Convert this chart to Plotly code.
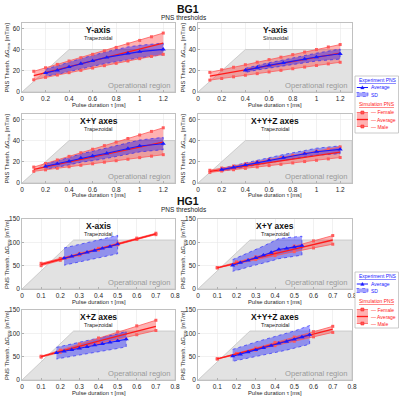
import plotly.graph_objects as go

# ------------------------------------------------------------------ data
# BG1 (x range 0-1.3 ms, y range 0-65 mT/m)
TAU_SIM_BG1 = [0.1, 0.2, 0.3, 0.4, 0.5, 0.6, 0.7, 0.8, 0.9, 1.0, 1.1, 1.2]
TAU_EXP_BG1 = [0.2, 0.3, 0.4, 0.5, 0.6, 0.72, 0.9, 1.0, 1.2]
TAU_EXP_BG1_SIN = [0.4, 0.5, 0.6, 0.72, 0.9, 1.0, 1.2]

BG1_Y_TRAP_FEMALE = [19.5, 22.8, 26.0, 29.2, 32.3, 35.5, 38.8, 42.0, 45.3, 48.6, 52.0, 55.5]
BG1_Y_TRAP_AVG = [15.5, 18.3, 21.0, 23.8, 26.6, 29.3, 32.0, 34.8, 37.6, 40.4, 43.2, 46.0]
BG1_Y_TRAP_MALE = [11.5, 13.8, 16.0, 18.2, 20.4, 22.6, 24.8, 27.0, 29.2, 31.4, 33.5, 35.5]
BG1_Y_TRAP_EXP_AVG = [18.0, 20.4, 23.6, 26.8, 29.4, 32.6, 36.4, 38.0, 40.2]
BG1_Y_TRAP_EXP_HI = [21.5, 24.5, 28.0, 31.5, 34.5, 38.0, 42.5, 44.0, 46.0]
BG1_Y_TRAP_EXP_LO = [15.0, 16.5, 19.2, 22.0, 24.2, 27.0, 30.5, 32.2, 35.0]

BG1_Y_SIN_FEMALE = [18.5, 20.9, 23.3, 25.7, 28.1, 30.5, 32.8, 35.2, 37.6, 40.0, 42.4, 44.7]
BG1_Y_SIN_AVG = [15.0, 17.0, 19.0, 20.9, 22.9, 24.9, 26.8, 28.8, 30.8, 32.8, 34.7, 36.7]
BG1_Y_SIN_MALE = [11.2, 12.7, 14.3, 15.8, 17.3, 18.9, 20.4, 21.9, 23.5, 25.0, 26.5, 28.0]
BG1_Y_SIN_EXP_AVG = [20.4, 23.0, 25.2, 27.4, 31.0, 32.9, 36.0]
BG1_Y_SIN_EXP_HI = [22.3, 25.2, 27.6, 30.2, 34.5, 36.6, 40.5]
BG1_Y_SIN_EXP_LO = [18.4, 20.8, 22.8, 24.6, 27.5, 29.2, 31.0]

BG1_XY_FEMALE = [15.0, 18.4, 21.7, 25.1, 28.5, 31.8, 35.2, 38.5, 41.9, 45.2, 48.6, 52.0]
BG1_XY_AVG = [12.9, 15.2, 17.6, 19.9, 22.3, 24.6, 26.9, 29.3, 31.6, 33.9, 36.3, 38.6]
BG1_XY_MALE = [11.0, 12.4, 13.9, 15.3, 16.7, 18.1, 19.6, 21.0, 22.4, 23.9, 25.3, 26.7]
BG1_XY_EXP_AVG = [15.7, 18.2, 20.4, 23.6, 25.4, 28.0, 32.4, 34.9, 37.0]
BG1_XY_EXP_HI = [18.2, 21.0, 24.0, 27.5, 29.8, 33.0, 37.8, 40.5, 43.0]
BG1_XY_EXP_LO = [12.9, 15.0, 17.0, 19.6, 21.0, 23.2, 27.0, 29.3, 31.4]

BG1_XYZ_FEMALE = [12.0, 14.1, 16.0, 18.1, 20.0, 22.1, 24.0, 26.1, 28.0, 30.1, 32.0, 34.0]
BG1_XYZ_AVG = [11.0, 12.6, 14.3, 15.9, 17.5, 19.2, 20.8, 22.5, 24.1, 25.7, 27.4, 29.0]
BG1_XYZ_MALE = [10.0, 11.3, 12.5, 13.8, 15.1, 16.4, 17.6, 18.9, 20.2, 21.4, 22.7, 24.0]
BG1_XYZ_EXP_AVG = [12.6, 14.8, 17.0, 19.4, 21.5, 24.0, 27.6, 29.5, 31.7]
BG1_XYZ_EXP_HI = [14.0, 16.5, 19.0, 21.6, 24.0, 26.8, 30.6, 32.8, 35.0]
BG1_XYZ_EXP_LO = [11.0, 13.0, 15.0, 17.2, 19.0, 21.3, 24.6, 26.2, 27.6]

# HG1 (x range 0-0.8 ms, y range 0-150 mT/m)
TAU_SIM_HG1 = [0.1, 0.2, 0.3, 0.4, 0.5, 0.6, 0.7]

HG1_X_FEMALE = [55.0, 65.5, 76.3, 87.2, 98.2, 109.0, 119.5]
HG1_X_AVG = [52.5, 63.5, 74.5, 85.5, 96.5, 107.5, 118.0]
HG1_X_MALE = [50.0, 61.5, 72.7, 83.8, 94.8, 106.0, 116.5]
HG1_X_EXP_TAU = [0.22, 0.26, 0.30, 0.34, 0.38, 0.42, 0.46, 0.50]
HG1_X_EXP_AVG = [66.0, 70.0, 74.5, 78.5, 82.5, 87.0, 91.0, 96.0]
HG1_X_EXP_HI = [88.0, 91.5, 95.0, 99.0, 103.0, 107.0, 111.0, 115.0]
HG1_X_EXP_LO = [51.0, 54.5, 58.0, 61.5, 65.0, 68.5, 72.0, 75.5]

HG1_XY_FEMALE = [46.0, 58.0, 69.0, 80.0, 92.0, 103.0, 114.5]
HG1_XY_AVG = [45.5, 56.0, 66.0, 76.0, 85.5, 95.5, 105.0]
HG1_XY_MALE = [45.0, 54.0, 63.0, 71.5, 80.0, 88.0, 96.0]
HG1_XY_EXP_TAU = [0.18, 0.22, 0.26, 0.30, 0.34, 0.38, 0.42, 0.46, 0.50, 0.54]
HG1_XY_EXP_AVG = [50.7, 56.5, 61.6, 66.7, 72.5, 78.0, 84.8, 87.0, 90.0, 93.0]
HG1_XY_EXP_HI = [63.0, 70.0, 77.0, 84.0, 92.0, 100.0, 108.0, 110.0, 111.0, 113.0]
HG1_XY_EXP_LO = [38.0, 42.0, 47.0, 52.0, 56.0, 60.0, 65.0, 68.0, 70.0, 72.5]

HG1_XZ_FEMALE = [51.0, 64.0, 77.0, 90.0, 103.0, 116.0, 128.0]
HG1_XZ_AVG = [50.0, 61.5, 72.5, 83.5, 94.0, 105.0, 115.0]
HG1_XZ_MALE = [49.0, 59.5, 69.0, 78.0, 87.5, 97.0, 106.0]
HG1_XZ_EXP_TAU = [0.18, 0.22, 0.26, 0.30, 0.34, 0.38, 0.42, 0.46, 0.50, 0.545]
HG1_XZ_EXP_AVG = [58.4, 61.5, 64.8, 68.0, 71.0, 74.5, 77.5, 80.8, 84.0, 87.5]
HG1_XZ_EXP_HI = [70.0, 73.5, 77.0, 80.5, 84.0, 88.0, 91.5, 95.0, 99.0, 104.0]
HG1_XZ_EXP_LO = [45.0, 47.5, 50.0, 53.0, 55.5, 58.5, 61.5, 64.5, 67.5, 71.0]

HG1_XYZ_FEMALE = [45.5, 57.0, 68.5, 80.5, 92.0, 103.5, 115.0]
HG1_XYZ_AVG = [45.3, 56.0, 66.5, 77.0, 87.5, 98.0, 109.0]
HG1_XYZ_MALE = [45.0, 54.5, 64.0, 73.5, 83.0, 92.5, 102.0]
HG1_XYZ_EXP_TAU = [0.18, 0.22, 0.26, 0.30, 0.34, 0.38, 0.42, 0.46, 0.50, 0.54, 0.58]
HG1_XYZ_EXP_AVG = [51.0, 55.0, 60.0, 64.5, 69.0, 73.5, 78.5, 82.5, 87.0, 92.0, 97.0]
HG1_XYZ_EXP_HI = [65.6, 70.0, 76.0, 81.5, 86.0, 90.5, 95.0, 100.0, 105.0, 111.0, 116.7]
HG1_XYZ_EXP_LO = [40.0, 43.0, 46.5, 50.0, 53.5, 57.0, 60.5, 64.0, 68.0, 72.0, 76.6]

# operational region outlines (tau, gradient)
OP_BG1_TAU = [0, 0.4, 1.3, 1.3, 0]
OP_BG1_G = [0, 40, 40, 0, 0]
OP_HG1_TAU = [0, 0.27, 0.8, 0.8, 0]
OP_HG1_G = [0, 105, 105, 0, 0]

PANEL_TITLES = ["Y-axis", "Y-axis", "X+Y axes", "X+Y+Z axes",
                "X-axis", "X+Y axes", "X+Z axes", "X+Y+Z axes"]
PANEL_SUBTITLES = ["Trapezoidal", "Sinusoidal", "Trapezoidal", "Trapezoidal",
                   "Trapezoidal", "Trapezoidal", "Trapezoidal", "Trapezoidal"]

# ------------------------------------------------------------------ layout helpers
W, H = 400, 398
FONT = "Liberation Sans, Arial, sans-serif"


def fx(p):
    return p / W


def fy(p):
    return 1 - p / H


COL_PX = {1: (22, 175), 2: (198, 352)}
ROW_PX = {1: (23, 92), 2: (114, 183), 3: (219, 289), 4: (310, 380)}

RED = "#ff1a1a"
RED_LIGHT = "#ff5a5a"
RED_FILL = "rgba(255,0,0,0.30)"
BLUE = "#1a1aff"
BLUE_FILL = "rgba(0,0,255,0.36)"

panels = [
    (TAU_SIM_BG1, BG1_Y_TRAP_FEMALE, BG1_Y_TRAP_AVG, BG1_Y_TRAP_MALE,
     TAU_EXP_BG1, BG1_Y_TRAP_EXP_AVG, BG1_Y_TRAP_EXP_HI, BG1_Y_TRAP_EXP_LO, "BG1"),
    (TAU_SIM_BG1, BG1_Y_SIN_FEMALE, BG1_Y_SIN_AVG, BG1_Y_SIN_MALE,
     TAU_EXP_BG1_SIN, BG1_Y_SIN_EXP_AVG, BG1_Y_SIN_EXP_HI, BG1_Y_SIN_EXP_LO, "BG1"),
    (TAU_SIM_BG1, BG1_XY_FEMALE, BG1_XY_AVG, BG1_XY_MALE,
     TAU_EXP_BG1, BG1_XY_EXP_AVG, BG1_XY_EXP_HI, BG1_XY_EXP_LO, "BG1"),
    (TAU_SIM_BG1, BG1_XYZ_FEMALE, BG1_XYZ_AVG, BG1_XYZ_MALE,
     TAU_EXP_BG1, BG1_XYZ_EXP_AVG, BG1_XYZ_EXP_HI, BG1_XYZ_EXP_LO, "BG1"),
    (TAU_SIM_HG1, HG1_X_FEMALE, HG1_X_AVG, HG1_X_MALE,
     HG1_X_EXP_TAU, HG1_X_EXP_AVG, HG1_X_EXP_HI, HG1_X_EXP_LO, "HG1"),
    (TAU_SIM_HG1, HG1_XY_FEMALE, HG1_XY_AVG, HG1_XY_MALE,
     HG1_XY_EXP_TAU, HG1_XY_EXP_AVG, HG1_XY_EXP_HI, HG1_XY_EXP_LO, "HG1"),
    (TAU_SIM_HG1, HG1_XZ_FEMALE, HG1_XZ_AVG, HG1_XZ_MALE,
     HG1_XZ_EXP_TAU, HG1_XZ_EXP_AVG, HG1_XZ_EXP_HI, HG1_XZ_EXP_LO, "HG1"),
    (TAU_SIM_HG1, HG1_XYZ_FEMALE, HG1_XYZ_AVG, HG1_XYZ_MALE,
     HG1_XYZ_EXP_TAU, HG1_XYZ_EXP_AVG, HG1_XYZ_EXP_HI, HG1_XYZ_EXP_LO, "HG1"),
]

fig = go.Figure()
layout = dict(
    width=W, height=H, margin=dict(l=0, r=0, t=0, b=0),
    paper_bgcolor="white", plot_bgcolor="white", showlegend=False,
    font=dict(family=FONT, size=6.5, color="#262626"),
)
annotations = []
shapes = []

for i, (ts, fem, avg, male, te, eavg, ehi, elo, grp) in enumerate(panels):
    k = i + 1
    row, col = i // 2 + 1, i % 2 + 1
    xa = "x" if k == 1 else f"x{k}"
    ya = "y" if k == 1 else f"y{k}"
    xl, xr = COL_PX[col]
    yt, yb = ROW_PX[row]
    bg = grp == "BG1"
    xrange = [0, 1.3] if bg else [0, 0.8]
    yrange = [0, 65] if bg else [0, 150]
    axcommon = dict(showgrid=True, gridcolor="#e8e8e8", gridwidth=0.6, zeroline=False,
                    showline=True, linecolor="#b0b0b0", linewidth=0.8, mirror=True,
                    ticks="inside", ticklen=2, tickcolor="#b0b0b0",
                    tickfont=dict(size=6.5, color="#262626"), automargin=False, fixedrange=True)
    layout["xaxis" if k == 1 else f"xaxis{k}"] = dict(
        axcommon, domain=[fx(xl), fx(xr)], range=xrange, anchor=ya,
        tick0=0, dtick=0.2 if bg else 0.1)
    layout["yaxis" if k == 1 else f"yaxis{k}"] = dict(
        axcommon, domain=[fy(yb), fy(yt)], range=yrange, anchor=xa,
        tick0=0, dtick=20 if bg else 50)

    opx, opy = (OP_BG1_TAU, OP_BG1_G) if bg else (OP_HG1_TAU, OP_HG1_G)
    fig.add_trace(go.Scatter(x=opx, y=opy, fill="toself", fillcolor="#e2e2e2",
                             line=dict(color="#c4c4c4", width=0.8), mode="lines",
                             xaxis=xa, yaxis=ya, hoverinfo="skip"))
    # simulation band
    fig.add_trace(go.Scatter(x=ts + ts[::-1], y=fem + male[::-1], fill="toself",
                             fillcolor=RED_FILL, line=dict(width=0), mode="lines",
                             xaxis=xa, yaxis=ya, hoverinfo="skip"))
    # experiment SD band
    fig.add_trace(go.Scatter(x=te + te[::-1], y=ehi + elo[::-1], fill="toself",
                             fillcolor=BLUE_FILL, line=dict(width=0.6, color=BLUE, dash="dot"),
                             mode="lines", xaxis=xa, yaxis=ya, hoverinfo="skip"))
    for ys in (fem, male):
        fig.add_trace(go.Scatter(x=ts, y=ys, mode="lines+markers",
                                 line=dict(color=RED_LIGHT, width=0.8),
                                 marker=dict(symbol="square", size=3, color=RED_LIGHT),
                                 xaxis=xa, yaxis=ya))
    fig.add_trace(go.Scatter(x=ts, y=avg, mode="lines", line=dict(color=RED, width=1.3),
                             xaxis=xa, yaxis=ya))
    fig.add_trace(go.Scatter(x=te, y=eavg, mode="lines+markers",
                             line=dict(color=BLUE, width=1.1),
                             marker=dict(symbol="triangle-up", size=4.5, color=BLUE),
                             xaxis=xa, yaxis=ya))

    xc = (xl + xr) / 2
    annotations.append(dict(text="<b>" + PANEL_TITLES[i] + "</b>", x=fx(xc), y=fy(yt + 7),
                            xref="paper", yref="paper", showarrow=False,
                            font=dict(size=8.5, color="#111111"), xanchor="center", yanchor="middle"))
    annotations.append(dict(text=PANEL_SUBTITLES[i], x=fx(xc), y=fy(yt + 15),
                            xref="paper", yref="paper", showarrow=False,
                            font=dict(size=5.5, color="#222222"), xanchor="center", yanchor="middle"))
    annotations.append(dict(text="Operational region", x=fx(xr - 3), y=fy(yb - 6.5),
                            xref="paper", yref="paper", showarrow=False,
                            font=dict(size=7.6, color="#9a9a9a"), xanchor="right", yanchor="middle"))
    annotations.append(dict(text="PNS Thresh. ΔG<sub>min</sub> [mT/m]", x=fx(xl - 15),
                            y=fy((yt + yb) / 2), xref="paper", yref="paper", showarrow=False,
                            textangle=-90, font=dict(size=5.8, color="#262626"),
                            xanchor="center", yanchor="middle"))
    annotations.append(dict(text="Pulse duration τ [ms]", x=fx(xc), y=fy(yb + 12.5),
                            xref="paper", yref="paper", showarrow=False,
                            font=dict(size=5.8, color="#262626"), xanchor="center", yanchor="middle"))

# section titles
for name, ytitle, ysub in (("BG1", 9, 18), ("HG1", 201, 210)):
    annotations.append(dict(text="<b>" + name + "</b>", x=fx(188), y=fy(ytitle), xref="paper",
                            yref="paper", showarrow=False, font=dict(size=10.5, color="#111111"),
                            xanchor="center", yanchor="middle"))
    annotations.append(dict(text="PNS thresholds", x=fx(184), y=fy(ysub), xref="paper",
                            yref="paper", showarrow=False, font=dict(size=6.5, color="#222222"),
                            xanchor="center", yanchor="middle"))

# legends (drawn as layout decoration)
LEG_X0, LEG_X1 = 355, 398.5
SX0, SX1 = 356.8, 368
TX = 369.3
LFS = 5
for top, bot, r_et, r_ea, r_sd, r_st, r_f, r_a, r_m in (
        (76, 133, 80, 87.5, 94.5, 104, 112.5, 119.5, 126.5),
        (272, 328, 276, 284, 290.5, 301, 309.5, 316.5, 323.5)):
    shapes.append(dict(type="rect", xref="paper", yref="paper", x0=fx(LEG_X0), x1=fx(LEG_X1),
                       y0=fy(bot), y1=fy(top), line=dict(color="#bdbdbd", width=0.8),
                       fillcolor="white", layer="above"))
    annotations.append(dict(text="<u>Experiment PNS</u>", x=fx(356.5), y=fy(r_et), xref="paper",
                            yref="paper", showarrow=False, font=dict(size=LFS, color=BLUE),
                            xanchor="left", yanchor="middle"))
    shapes.append(dict(type="line", xref="paper", yref="paper", x0=fx(SX0), x1=fx(SX1),
                       y0=fy(r_ea), y1=fy(r_ea), line=dict(color=BLUE, width=1)))
    cx = (SX0 + SX1) / 2
    shapes.append(dict(type="path", xref="paper", yref="paper",
                       path=(f"M {fx(cx - 1.8)},{fy(r_ea + 1.4)} L {fx(cx)},{fy(r_ea - 1.8)} "
                             f"L {fx(cx + 1.8)},{fy(r_ea + 1.4)} Z"),
                       fillcolor=BLUE, line=dict(color=BLUE, width=0.3)))
    annotations.append(dict(text="Average", x=fx(TX), y=fy(r_ea), xref="paper",
                            yref="paper", showarrow=False, font=dict(size=LFS, color=BLUE),
                            xanchor="left", yanchor="middle"))
    shapes.append(dict(type="rect", xref="paper", yref="paper", x0=fx(SX0), x1=fx(SX1),
                       y0=fy(r_sd + 2), y1=fy(r_sd - 2), fillcolor=BLUE_FILL,
                       line=dict(color=BLUE, width=0.5, dash="dot")))
    annotations.append(dict(text="SD", x=fx(TX), y=fy(r_sd), xref="paper",
                            yref="paper", showarrow=False, font=dict(size=LFS, color=BLUE),
                            xanchor="left", yanchor="middle"))
    annotations.append(dict(text="<u>Simulation PNS</u>", x=fx(356.5), y=fy(r_st), xref="paper",
                            yref="paper", showarrow=False, font=dict(size=LFS, color=RED),
                            xanchor="left", yanchor="middle"))
    shapes.append(dict(type="rect", xref="paper", yref="paper", x0=fx(SX0), x1=fx(SX1),
                       y0=fy(r_m), y1=fy(r_f), fillcolor=RED_FILL, line=dict(width=0)))
    for yy, wd in ((r_f, 0.8), (r_a, 1.3), (r_m, 0.8)):
        shapes.append(dict(type="line", xref="paper", yref="paper", x0=fx(SX0), x1=fx(SX1),
                           y0=fy(yy), y1=fy(yy), line=dict(color=RED if wd > 1 else RED_LIGHT, width=wd)))
    for yy in (r_f, r_m):
        shapes.append(dict(type="rect", xref="paper", yref="paper", x0=fx(cx - 1.5), x1=fx(cx + 1.5),
                           y0=fy(yy + 1.5), y1=fy(yy - 1.5), fillcolor=RED_LIGHT,
                           line=dict(color=RED, width=0.5)))
    for yy, lab in ((r_f, "— Female"), (r_a, "— Average"), (r_m, "— Male")):
        annotations.append(dict(text=lab, x=fx(TX), y=fy(yy), xref="paper",
                                yref="paper", showarrow=False, font=dict(size=LFS, color=RED),
                                xanchor="left", yanchor="middle"))

layout["annotations"] = annotations
layout["shapes"] = shapes
fig.update_layout(**layout)
fig.write_html(
    "out.html",
    config={"displayModeBar": False, "staticPlot": True},
    post_script="document.documentElement.style.overflow='hidden';"
                "document.body.style.margin='0';document.body.style.overflow='hidden';",
)
